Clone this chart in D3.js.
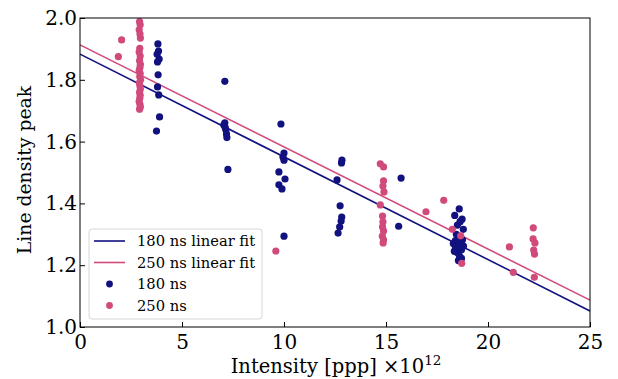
<!DOCTYPE html>
<html><head><meta charset="utf-8">
<script src="https://cdn.jsdelivr.net/npm/d3@7"></script>
<style>body{margin:0;background:#fff}svg{display:block}text{font-family:"DejaVu Serif",serif;fill:#000}</style>
</head><body><svg id="c" width="618" height="379"></svg>
<script>
const xTicks=[0,5,10,15,20,25];
const yTicks=[1.0,1.2,1.4,1.6,1.8,2.0];
const fitX=[0,25];
const fit180=[1.883,1.052];
const fit250=[1.913,1.087];
const x180=[3.82,3.85,3.78,3.88,3.8,3.83,3.8,3.86,3.9,3.75,
7.1,7.1,7.05,7.12,7.15,7.18,7.2,7.25,
9.85,10.0,9.95,10.0,9.75,10.05,9.75,9.9,10.0,
12.84,12.82,12.6,12.75,12.83,12.8,12.73,12.65,
15.74,15.62,
18.59,18.37,18.73,18.63,18.5,18.79,18.3,18.4,18.5,18.6,18.7,18.5,18.6,18.7,18.55,18.4,18.75,18.65,18.45,18.8,18.35,18.6];
const y180=[1.916,1.893,1.883,1.867,1.858,1.816,1.777,1.751,1.680,1.634,
1.795,1.661,1.654,1.645,1.638,1.625,1.613,1.510,
1.657,1.563,1.550,1.540,1.502,1.479,1.460,1.447,1.294,
1.540,1.531,1.476,1.392,1.356,1.343,1.324,1.304,
1.482,1.326,
1.382,1.361,1.349,1.341,1.330,1.316,1.270,1.280,1.262,1.272,1.250,1.240,1.230,1.222,1.215,1.252,1.282,1.292,1.300,1.262,1.245,1.258];
const x250=[2.04,1.88,
2.92,2.95,2.9,2.94,2.96,2.93,2.9,2.95,2.92,2.96,2.94,2.9,2.95,2.93,2.97,2.91,2.94,2.96,2.92,2.95,2.93,2.9,2.94,2.96,2.92,
9.6,
14.72,14.88,14.88,14.85,14.9,14.72,14.83,14.85,14.83,14.88,14.82,14.88,14.86,
16.96,17.83,18.25,18.66,18.71,
21.05,21.24,
22.22,22.21,22.3,22.24,22.28,22.27];
const y250=[1.929,1.875,
1.988,1.978,1.962,1.948,1.935,1.902,1.890,1.877,1.862,1.850,1.840,1.830,1.820,1.810,1.800,1.790,1.780,1.770,1.760,1.750,1.740,1.730,1.720,1.712,1.705,
1.246,
1.528,1.518,1.473,1.456,1.437,1.395,1.359,1.340,1.324,1.311,1.294,1.282,1.272,
1.373,1.410,1.316,1.295,1.206,
1.259,1.177,
1.321,1.285,1.272,1.249,1.236,1.161];
const c180="#11117f", c250="#d14a7c";
const svg=d3.select("#c");
const L=80,R=590,T=18,B=327;
const x=d3.scaleLinear().domain([0,25]).range([L,R]);
const y=d3.scaleLinear().domain([1.0,2.0]).range([B,T]);
const g=svg.append("g");
[[fit180,c180],[fit250,c250]].forEach(([f,c])=>{
  g.append("path").attr("d",d3.line()(fitX.map((v,i)=>[x(v),y(f[i])]))).attr("stroke",c).attr("stroke-width",1.6).attr("fill","none");
});
g.selectAll("circle.a").data(x180.map((v,i)=>[v,y180[i]])).join("circle").attr("cx",d=>x(d[0])).attr("cy",d=>y(d[1])).attr("r",3.6).attr("fill",c180);
g.selectAll("circle.b").data(x250.map((v,i)=>[v,y250[i]])).join("circle").attr("cx",d=>x(d[0])).attr("cy",d=>y(d[1])).attr("r",3.6).attr("fill",c250);
svg.append("rect").attr("x",L).attr("y",T).attr("width",R-L).attr("height",B-T).attr("fill","none").attr("stroke","#000").attr("stroke-width",1);
const xa=svg.append("g").attr("transform",`translate(0,${B})`).call(d3.axisBottom(x).tickValues(xTicks).tickSizeInner(-5).tickSizeOuter(0).tickPadding(8).tickFormat(d3.format("d")));
const ya=svg.append("g").attr("transform",`translate(${L},0)`).call(d3.axisLeft(y).tickValues(yTicks).tickSizeInner(-5).tickSizeOuter(0).tickPadding(3).tickFormat(d3.format(".1f")));
[xa,ya].forEach(a=>{a.select(".domain").remove();a.selectAll("text").style("font-family","DejaVu Serif").style("font-size","20px").attr("fill","#000");a.selectAll("line").attr("stroke","#000");});
const xt=svg.append("text").attr("x",336).attr("y",373).attr("text-anchor","middle").style("font-size","19.5px");
xt.append("tspan").text("Intensity [ppp] ×10");
xt.append("tspan").attr("dy",-8).style("font-size","13.5px").text("12");
svg.append("text").attr("transform","translate(31,170) rotate(-90)").attr("text-anchor","middle").style("font-size","18.8px").text("Line density peak");
const lg=svg.append("g");
lg.append("rect").attr("x",89).attr("y",229).attr("width",173).attr("height",90).attr("rx",3).attr("fill","#fff").attr("fill-opacity",0.8).attr("stroke","#d6d6d6");
const items=[["line",c180,"180 ns linear fit"],["line",c250,"250 ns linear fit"],["dot",c180,"180 ns"],["dot",c250,"250 ns"]];
items.forEach((it,i)=>{
  const yy=241+i*21.5;
  if(it[0]==="line") lg.append("line").attr("x1",94).attr("x2",125).attr("y1",yy).attr("y2",yy).attr("stroke",it[1]).attr("stroke-width",1.6);
  else lg.append("circle").attr("cx",109.5).attr("cy",yy).attr("r",3.4).attr("fill",it[1]);
  lg.append("text").attr("x",137).attr("y",yy).attr("dy","0.35em").style("font-size","14.7px").text(it[2]);
});
</script></body></html>
